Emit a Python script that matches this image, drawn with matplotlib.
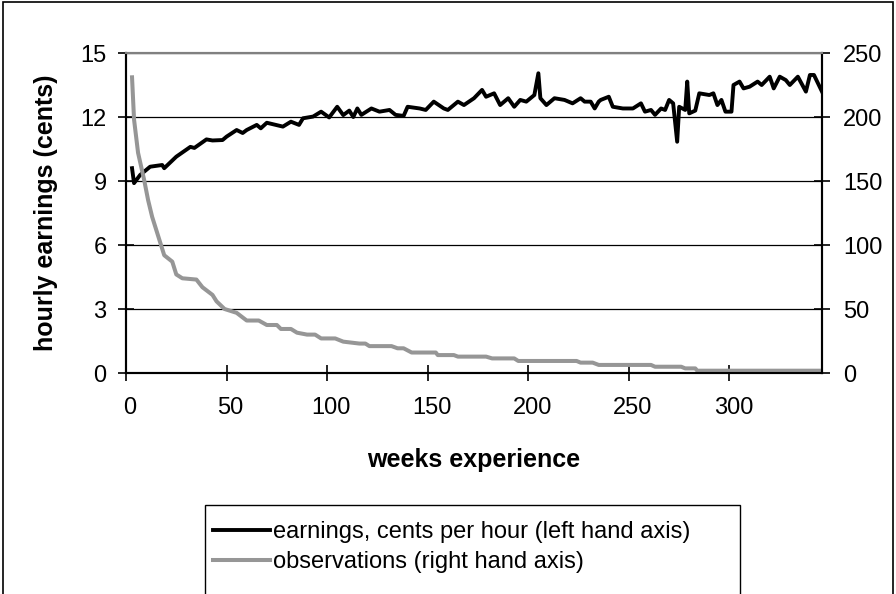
import matplotlib
matplotlib.use("Agg")
import matplotlib.pyplot as plt
from matplotlib.patches import Rectangle

plt.rcParams['font.family'] = ['Liberation Sans', 'DejaVu Sans']

# earnings, cents per hour (left axis)
earn_weeks = [1, 2, 5, 10, 16, 17, 23, 30, 32, 38, 41, 46, 48, 53, 56, 58, 63, 65, 68, 76,
              80, 84, 86, 91, 95, 99, 103, 106, 109, 111, 113, 115, 120, 124, 129, 132, 136, 138, 144, 147,
              151, 156, 158, 163, 166, 171, 175, 177, 181, 184, 188, 191, 194, 197, 201, 203, 204, 207, 211, 216,
              220, 224, 226, 229, 231, 233, 234, 238, 240, 245, 250, 254, 256, 259, 261, 264, 266, 268, 270, 272,
              273, 276, 277, 278, 281, 283, 288, 290, 292, 294, 296, 299, 300, 303, 305, 308, 312, 314, 318, 320,
              323, 326, 328, 332, 336, 338, 340, 344]
earnings = [9.6, 8.9, 9.28, 9.67, 9.75, 9.6, 10.14, 10.6, 10.55, 10.95, 10.9, 10.92, 11.08, 11.39, 11.25, 11.39, 11.63, 11.47, 11.73, 11.55,
            11.78, 11.63, 11.94, 12.02, 12.25, 11.98, 12.48, 12.09, 12.3, 12.0, 12.4, 12.1, 12.4, 12.25, 12.33, 12.1, 12.05, 12.48, 12.4, 12.33,
            12.72, 12.4, 12.33, 12.72, 12.56, 12.88, 13.27, 12.95, 13.11, 12.56, 12.88, 12.48, 12.8, 12.72, 13.03, 14.05, 12.88, 12.56, 12.88, 12.8,
            12.64, 12.88, 12.72, 12.72, 12.4, 12.72, 12.8, 12.95, 12.48, 12.4, 12.4, 12.64, 12.25, 12.33, 12.1, 12.4, 12.33, 12.8, 12.64, 10.84,
            12.48, 12.33, 13.66, 12.17, 12.3, 13.11, 13.03, 13.11, 12.56, 12.8, 12.25, 12.25, 13.5, 13.66, 13.34, 13.42, 13.66, 13.5, 13.89, 13.34,
            13.89, 13.73, 13.5, 13.89, 13.19, 13.97, 13.97, 13.19]

# observations (right axis)
obs_weeks = [1, 2, 4, 7, 9, 11, 15, 17, 21, 23, 26, 33, 36, 41, 43, 47, 53, 58, 64, 68,
             73, 75, 80, 83, 88, 92, 95, 102, 106, 114, 117, 119, 130, 133, 136, 140, 152, 153, 161, 163,
             177, 180, 191, 193, 222, 224, 230, 233, 259, 261, 274, 276, 281, 282, 344]
observations = [231, 198, 172, 151, 135, 122, 102, 92, 87, 77, 74, 73, 67, 61, 56, 50, 47, 41, 41, 37.5,
                37.5, 34.4, 34.4, 31.5, 30, 30, 27, 27, 24.5, 23, 23, 21, 21, 19.3, 19.3, 16, 16, 14, 14, 12.8,
                12.8, 11.4, 11.4, 9.4, 9.4, 8.1, 8.1, 6.3, 6.3, 4.9, 4.9, 3.6, 3.6, 1.8, 1.8]

x_ticks = [0, 50, 100, 150, 200, 250, 300]
left_ticks = [0, 3, 6, 9, 12, 15]
right_ticks = [0, 50, 100, 150, 200, 250]

fig = plt.figure(figsize=(8.96, 5.94), dpi=100)
ax = fig.add_axes([126 / 896, 1 - 373 / 594, 696 / 896, 320 / 594])
ax2 = ax.twinx()

l1, = ax.plot(earn_weeks, earnings, color='black', lw=2.8, solid_joinstyle='round',
              label='earnings, cents per hour (left hand axis)')
l2, = ax2.plot(obs_weeks, observations, color='#969696', lw=2.9,
               label='observations (right hand axis)')

ax.set_xlim(-2, 344)
ax.set_ylim(0, 15)
ax2.set_ylim(0, 250)

# labels sit on the categories, tick marks a little to the left of them
ax.set_xticks(x_ticks)
ax.set_xticks([t - 2 for t in x_ticks], minor=True)
ax.tick_params(axis='x', which='major', length=0, pad=17, labelsize=17)
ax.tick_params(axis='x', which='minor', direction='inout', length=12, width=1.2)
ax.set_yticks(left_ticks)
ax.tick_params(axis='y', direction='inout', length=12, width=1.2, pad=8, labelsize=17)
ax2.set_yticks(right_ticks)
ax2.tick_params(axis='y', direction='inout', length=12, width=1.2, pad=9, labelsize=17)

ax.yaxis.grid(True, color='black', lw=0.9)
ax.set_axisbelow(True)

for a in (ax, ax2):
    for s in ('left', 'right', 'bottom'):
        a.spines[s].set_linewidth(1.5)
        a.spines[s].set_color('black')
    a.spines['top'].set_color('#808080')
    a.spines['top'].set_linewidth(1.5)

ax.set_xlabel('weeks experience', fontsize=18, fontweight='bold')
ax.xaxis.set_label_coords(0.5, -0.235)
ax.set_ylabel('hourly earnings (cents)', fontsize=18, fontweight='bold')
ax.yaxis.set_label_coords(-0.097, 0.5)

# legend box runs off the bottom of the picture
fig.patches.append(Rectangle((205 / 896, -0.05), 535 / 896, 0.05 + 1 - 505 / 594,
                             transform=fig.transFigure, fill=False, edgecolor='black', lw=1.0))
fig.legend(handles=[l1, l2], loc='upper left', bbox_to_anchor=(213 / 896, 1 - 521 / 594),
           frameon=False, fontsize=17, handlelength=2.4, handletextpad=0.15,
           labelspacing=0.34, borderpad=0, borderaxespad=0)

# outer chart border
fig.patches.append(Rectangle((3 / 896, -0.05), 890 / 896, 1.05 - 2 / 594,
                             transform=fig.transFigure, fill=False, edgecolor='black', lw=1.2))

fig.savefig('out.png', dpi=100)
